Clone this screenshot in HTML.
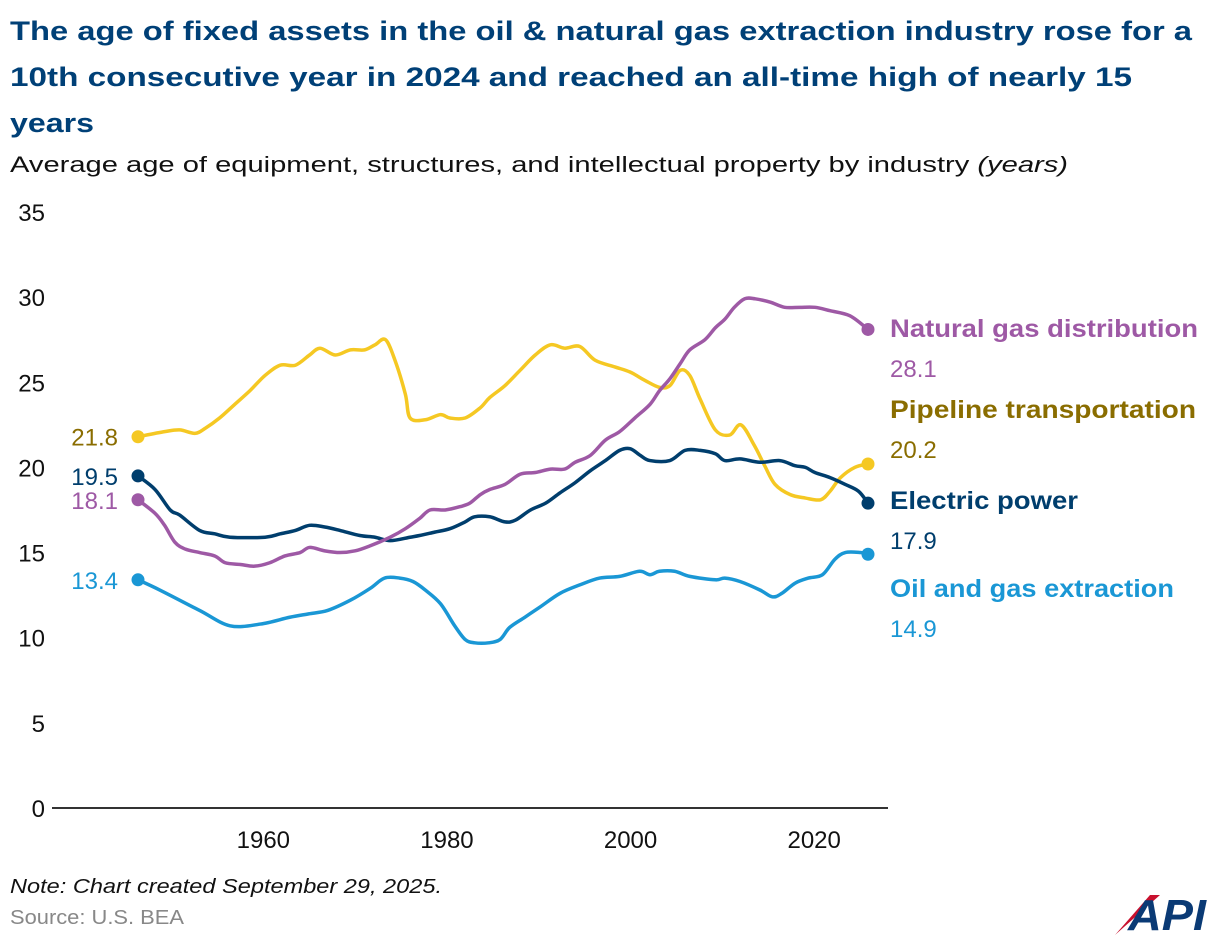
<!DOCTYPE html>
<html><head><meta charset="utf-8">
<style>
body{margin:0;background:#fff;width:1220px;height:946px;overflow:hidden;font-family:"Liberation Sans",sans-serif;}
</style></head>
<body>
<svg width="1220" height="946" xmlns="http://www.w3.org/2000/svg">
<text x="10" y="40" font-size="27" font-weight="bold" fill="#004077" textLength="1182" lengthAdjust="spacingAndGlyphs">The age of fixed assets in the oil &amp; natural gas extraction industry rose for a</text>
<text x="10" y="86" font-size="27" font-weight="bold" fill="#004077" textLength="1122" lengthAdjust="spacingAndGlyphs">10th consecutive year in 2024 and reached an all-time high of nearly 15</text>
<text x="10" y="132" font-size="27" font-weight="bold" fill="#004077" textLength="84" lengthAdjust="spacingAndGlyphs">years</text>
<text x="10" y="172" font-size="22" fill="#111" textLength="1058" lengthAdjust="spacingAndGlyphs">Average age of equipment, structures, and intellectual property by industry <tspan font-style="italic">(years)</tspan></text>
<g id="axes"></g>
<g id="series"></g>
<text x="10" y="893" font-size="20" font-style="italic" fill="#111" textLength="432" lengthAdjust="spacingAndGlyphs">Note: Chart created September 29, 2025.</text>
<text x="10" y="924" font-size="20" fill="#888" textLength="174" lengthAdjust="spacingAndGlyphs">Source: U.S. BEA</text>
<g>
<path d="M1115 935 L1150 895 L1160 895 Z" fill="#c8102e"/>
<text x="1128" y="930" font-size="44" font-weight="bold" font-style="italic" fill="#0a3a75" textLength="78" lengthAdjust="spacingAndGlyphs">API</text>
</g>
</svg>
<script>
const years = {
oil:[1947,1949.3,1953.5,1956.7,1959.9,1963,1965,1967,1969.4,1971.5,1973,1974.6,1976,1977.3,1978.9,1980.4,1981.5,1982.5,1984,1985.2,1986.2,1987.8,1989.4,1991.5,1993.6,1995.7,1997.8,1999.9,2001,2002,2003.6,2005.2,2007.9,2008.9,2010.5,2012.6,2013.9,2014.9,2016.3,2017.7,2019.2,2020.5,2021.6,2023.2,2024],
elec:[1947,1948.8,1950.4,1951.4,1953.5,1955.1,1956.7,1960.4,1962,1963.6,1965.1,1966.7,1968.3,1970.4,1972,1973.6,1975.7,1976.7,1978.3,1979.9,1981.5,1982.5,1984.1,1985.7,1986.8,1988.4,1990,1991.5,1993.1,1994.7,1996.3,1997.8,1998.9,2000,2001,2003.1,2004.7,2006.3,2007.9,2008.9,2010.5,2012.6,2014.7,2016.3,2017.4,2018.4,2020,2021.6,2023,2024],
gas:[1947,1948.8,1949.8,1950.9,1952,1953.5,1955.1,1956.2,1957.8,1959.3,1960.9,1962.5,1964.1,1965.1,1966.7,1968.3,1969.9,1971.5,1973.6,1975.2,1976.7,1977.8,1979.4,1981,1982,1983.1,1984.1,1985.7,1987.3,1988.9,1990.5,1992,1993.1,1994.7,1996.3,1997.8,1999.4,2001,2002,2003.1,2004.2,2005.2,2006.8,2007.9,2008.9,2009.9,2011,2012.1,2013.7,2015.2,2016.8,2018.4,2020,2022.1,2024],
pipe:[1947,1949.8,1951.4,1953,1954.1,1955.6,1957.2,1958.8,1960.4,1962,1963.6,1965.1,1966.2,1967.8,1969.4,1970.9,1972,1973.1,1974.1,1975.2,1975.7,1977.3,1978.9,1979.9,1981.5,1983.1,1984.1,1985.7,1987.3,1988.9,1990.5,1992,1993.6,1995.2,1997.3,1998.9,2000.5,2002,2003.1,2004.2,2005.2,2006.3,2007.9,2009.4,2010.6,2012,2013.1,2014.2,2015.8,2017.4,2019,2020,2021.1,2022.6,2024]
};
const oilValues=[13.4,12.8,11.6,10.7,10.8,11.2,11.4,11.6,12.2,12.9,13.5,13.5,13.3,12.8,12,10.7,9.9,9.7,9.7,9.9,10.6,11.2,11.8,12.6,13.1,13.5,13.6,13.9,13.7,13.9,13.9,13.6,13.4,13.5,13.3,12.8,12.4,12.6,13.2,13.5,13.7,14.6,15,15,14.9];
const elecValues=[19.5,18.7,17.5,17.2,16.3,16.1,15.9,15.9,16.1,16.3,16.6,16.5,16.3,16,15.9,15.7,15.9,16,16.2,16.4,16.8,17.1,17.1,16.8,16.9,17.5,17.9,18.5,19.1,19.8,20.4,21,21.1,20.7,20.4,20.4,21,21,20.8,20.4,20.5,20.3,20.4,20.1,20,19.7,19.4,19,18.6,17.9];
const gasValues=[18.1,17.3,16.6,15.6,15.2,15,14.8,14.4,14.3,14.2,14.4,14.8,15,15.3,15.1,15,15.1,15.4,15.9,16.4,17,17.5,17.5,17.7,17.9,18.4,18.7,19,19.6,19.7,19.9,19.9,20.3,20.7,21.6,22.1,22.9,23.7,24.5,25.2,26.1,26.9,27.5,28.2,28.7,29.4,29.9,29.9,29.7,29.4,29.4,29.4,29.2,28.9,28.1];
const pipeValues=[21.8,22.1,22.2,22,22.3,22.9,23.7,24.5,25.4,26,26,26.6,27,26.6,26.9,26.9,27.2,27.5,26.3,24.3,22.9,22.8,23.1,22.9,22.9,23.5,24.1,24.8,25.7,26.6,27.2,27,27.1,26.3,25.9,25.6,25.1,24.7,24.8,25.7,25.4,24,22.2,21.9,22.5,21.3,20.1,19,18.4,18.2,18.1,18.6,19.4,20,20.2];
const yTicks=[0,5,10,15,20,25,30,35];
const xTicks=[1960,1980,2000,2020];
const NS='http://www.w3.org/2000/svg';
const xs=y=>138+(y-1947)*(868-138)/77;
const ys=v=>808-v*17.03;
const axes=document.getElementById('axes'), ser=document.getElementById('series');
function mk(tag,attrs,parent,txt){const e=document.createElementNS(NS,tag);for(const k in attrs)e.setAttribute(k,attrs[k]);if(txt!==undefined)e.textContent=txt;parent.appendChild(e);return e;}
const ax=mk('line',{x1:52,x2:888,y1:808,y2:808,stroke:'#333','stroke-width':2},axes);


yTicks.forEach(t=>{const e=mk('text',{x:45,y:ys(t)+9,'font-size':24,'text-anchor':'end',fill:'#111'},axes,t);

});
xTicks.forEach(t=>{const e=mk('text',{x:xs(t)-(t-1947)*0.3+6,y:848,'font-size':24,'text-anchor':'middle',fill:'#111'},axes,t);

});
function path(xsArr,vals){const p=xsArr.map((y,i)=>[xs(y),ys(vals[i])]);let d='M'+p[0][0]+','+p[0][1];
for(let i=0;i<p.length-1;i++){const p0=p[i-1]||p[i],p1=p[i],p2=p[i+1],p3=p[i+2]||p2;
d+=' C'+(p1[0]+(p2[0]-p0[0])/6)+','+(p1[1]+(p2[1]-p0[1])/6)+' '+(p2[0]-(p3[0]-p1[0])/6)+','+(p2[1]-(p3[1]-p1[1])/6)+' '+p2[0]+','+p2[1];}return d;}
const series=[
{k:'pipe',v:pipeValues,c:'#f5c823',tc:'#8a6d00',name:'Pipeline transportation',ly:418,lw:306,n:'pipeline'},
{k:'oil',v:oilValues,c:'#1a97d5',tc:'#1a97d5',name:'Oil and gas extraction',ly:597,lw:284,n:'oil-gas'},
{k:'elec',v:elecValues,c:'#003e6d',tc:'#003e6d',name:'Electric power',ly:509,lw:188,n:'electric'},
{k:'gas',v:gasValues,c:'#9e59a5',tc:'#9e59a5',name:'Natural gas distribution',ly:337,lw:308,n:'natural-gas'}];
series.forEach(s=>{
const l=mk('path',{d:path(years[s.k],s.v),fill:'none',stroke:s.c,'stroke-width':3.5},ser);


const yr=years[s.k];const first=s.v[0],last=s.v[s.v.length-1];
[[yr[0],first],[yr[yr.length-1],last]].forEach(([y,v])=>{const c=mk('circle',{cx:xs(y),cy:ys(v),r:6.5,fill:s.c},ser);

});
const a=mk('text',{x:118,y:ys(first)+9,'font-size':24,'text-anchor':'end',fill:s.tc},ser,first.toFixed(1));


const b=mk('text',{x:890,y:s.ly,'font-size':25,'font-weight':'bold',fill:s.tc,textLength:s.lw,lengthAdjust:'spacingAndGlyphs'},ser,s.name);


const c2=mk('text',{x:890,y:s.ly+40,'font-size':24,fill:s.tc},ser,last.toFixed(1));


});
</script>
</body></html>
